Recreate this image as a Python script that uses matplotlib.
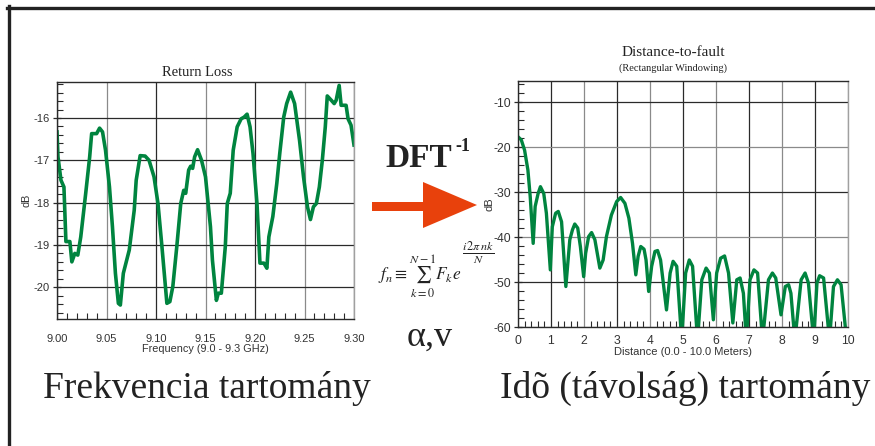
import numpy as np
import matplotlib
matplotlib.use('Agg')
import matplotlib.pyplot as plt
from matplotlib.lines import Line2D
from matplotlib.patches import Polygon
from matplotlib.ticker import MultipleLocator

# Return loss trace (frequency GHz, dB)
freq = [9.000, 9.001, 9.004, 9.007, 9.009, 9.013, 9.015, 9.018, 9.021, 9.024,
        9.029, 9.033, 9.035, 9.040, 9.043, 9.046, 9.049, 9.053, 9.056, 9.059,
        9.062, 9.064, 9.067, 9.073, 9.078, 9.080, 9.084, 9.089, 9.093, 9.098,
        9.102, 9.106, 9.111, 9.114, 9.117, 9.121, 9.125, 9.128, 9.130, 9.133,
        9.135, 9.137, 9.139, 9.142, 9.146, 9.150, 9.155, 9.157, 9.161, 9.163,
        9.166, 9.170, 9.172, 9.175, 9.178, 9.182, 9.186, 9.189, 9.192, 9.195,
        9.198, 9.202, 9.205, 9.209, 9.212, 9.214, 9.218, 9.222, 9.225, 9.229,
        9.232, 9.236, 9.240, 9.245, 9.249, 9.253, 9.256, 9.259, 9.262, 9.265,
        9.268, 9.271, 9.273, 9.277, 9.280, 9.282, 9.285, 9.287, 9.292, 9.294,
        9.297, 9.300]
rl_db = [-16.33, -16.92, -17.47, -17.63, -18.92, -18.92, -19.40, -19.20, -19.24, -18.81,
         -17.78, -16.92, -16.37, -16.37, -16.24, -16.33, -16.76, -17.63, -18.57, -19.67,
         -20.38, -20.42, -19.67, -19.12, -18.18, -17.47, -16.89, -16.90, -17.00, -17.39,
         -18.02, -19.04, -20.38, -20.34, -19.98, -19.04, -18.02, -17.71, -17.78, -17.23,
         -17.14, -17.19, -16.92, -16.75, -17.00, -17.39, -18.57, -19.36, -20.31, -20.14,
         -20.14, -19.04, -18.02, -17.78, -16.76, -16.21, -16.02, -15.98, -15.91, -16.21,
         -16.84, -18.02, -19.43, -19.43, -19.55, -18.81, -18.33, -17.55, -16.84, -15.98,
         -15.66, -15.39, -15.66, -16.53, -17.39, -18.10, -18.40, -18.10, -18.02, -17.63,
         -17.00, -16.21, -15.48, -15.58, -15.66, -15.58, -15.23, -15.70, -15.70, -16.02,
         -16.17, -16.64]

# Distance-to-fault trace (meters, dB)
dist = [0.00, 0.10, 0.20, 0.30, 0.37, 0.46, 0.52, 0.61, 0.68, 0.78,
        0.86, 0.98, 1.04, 1.14, 1.22, 1.32, 1.45, 1.57, 1.65, 1.72,
        1.81, 1.89, 1.99, 2.05, 2.14, 2.23, 2.33, 2.48, 2.58, 2.68,
        2.83, 2.99, 3.11, 3.24, 3.36, 3.47, 3.57, 3.64, 3.72, 3.82,
        3.88, 3.96, 4.05, 4.15, 4.23, 4.32, 4.50, 4.61, 4.70, 4.81,
        4.96, 5.08, 5.19, 5.29, 5.44, 5.57, 5.70, 5.80, 5.92, 6.02,
        6.14, 6.26, 6.38, 6.51, 6.63, 6.73, 6.83, 6.92, 7.03, 7.15,
        7.26, 7.41, 7.59, 7.71, 7.81, 7.97, 8.10, 8.20, 8.27, 8.39,
        8.58, 8.70, 8.80, 8.96, 9.06, 9.14, 9.26, 9.44, 9.56, 9.68,
        9.79, 9.96, 10.00]
dtf_db = [-17.7, -18.4, -20.7, -25.1, -31.0, -41.4, -33.2, -30.3, -28.8, -30.3,
          -34.7, -47.3, -37.7, -34.7, -34.3, -36.6, -51.0, -40.6, -38.4, -37.1,
          -38.0, -42.1, -48.8, -43.6, -39.9, -39.0, -40.6, -46.9, -45.1, -39.9,
          -35.1, -32.1, -31.2, -32.5, -35.8, -41.4, -48.4, -44.3, -42.1, -42.7,
          -45.1, -52.1, -46.5, -43.2, -43.0, -45.1, -56.2, -48.0, -45.4, -46.5,
          -63.0, -48.0, -45.1, -46.5, -63.0, -49.5, -46.9, -48.0, -58.4, -48.0,
          -44.7, -44.2, -48.0, -59.1, -49.5, -49.1, -52.5, -63.0, -49.5, -47.3,
          -48.0, -63.0, -49.5, -48.0, -49.1, -57.3, -51.0, -50.6, -52.5, -63.0,
          -49.5, -48.0, -50.2, -63.0, -50.2, -48.6, -49.1, -63.0, -51.0, -49.5,
          -50.6, -63.0, -63.0]

green = '#00843f'
dark = '#2a2a2a'
grey = '#8a8a8a'

plt.rcParams['axes.unicode_minus'] = False
plt.rcParams['mathtext.fontset'] = 'stix'

fig = plt.figure(figsize=(8.75, 4.46), dpi=100)
W, H = 875, 446


def px(x, y):
    # pixel position (from top-left) -> figure fraction
    return x / W, 1 - y / H


def style_axes(ax, tick_size):
    ax.set_facecolor('white')
    for side in ['left', 'bottom', 'top']:
        ax.spines[side].set_color(dark)
        ax.spines[side].set_linewidth(1.0)
    ax.spines['right'].set_color('#a0a0a0')
    ax.spines['right'].set_linewidth(1.0)
    ax.grid(True, which='major', linewidth=0.9, color=dark)
    ax.tick_params(which='major', axis='y', direction='inout', length=6,
                   width=0.9, color=dark, labelsize=tick_size, labelcolor='#333333', pad=2)
    ax.tick_params(which='major', axis='x', direction='in', length=0,
                   labelsize=tick_size, labelcolor='#333333')
    ax.tick_params(which='minor', direction='in', length=4, width=0.8, color=dark)
    for lab in ax.get_xticklabels() + ax.get_yticklabels():
        lab.set_fontfamily('Liberation Sans')


# Frequency domain plot
ax1 = fig.add_axes([57 / W, 1 - 319 / H, 297 / W, 237 / H])
ax1.plot(freq, rl_db, color=green, linewidth=2.6, solid_joinstyle='round')
ax1.set_xlim(9.0, 9.3)
ax1.set_ylim(-20.75, -15.15)
ax1.set_xticks(np.arange(9.0, 9.301, 0.05))
ax1.set_xticklabels(['9.00', '9.05', '9.10', '9.15', '9.20', '9.25', '9.30'])
ax1.set_yticks([-20, -19, -18, -17, -16])
ax1.xaxis.set_minor_locator(MultipleLocator(0.01))
ax1.yaxis.set_minor_locator(MultipleLocator(0.2))
style_axes(ax1, 8)
ax1.tick_params(axis='x', pad=11)
ax1.set_xlabel('Frequency (9.0 - 9.3 GHz)', fontsize=7.8, family='Liberation Sans',
               color='#333333', labelpad=0)
ax1.set_ylabel('dB', fontsize=7.8, family='Liberation Sans', color='#333333', labelpad=2)
for i, gl in enumerate(ax1.get_xgridlines()):
    gl.set_color(grey if i % 2 == 1 else dark)

# Distance domain plot
ax2 = fig.add_axes([518 / W, 1 - 327 / H, 330 / W, 246 / H])
ax2.plot(dist, dtf_db, color=green, linewidth=2.4, solid_joinstyle='round')
ax2.set_xlim(0, 10)
ax2.set_ylim(-60, -5.3)
ax2.set_xticks(range(0, 11))
ax2.set_yticks([-60, -50, -40, -30, -20, -10])
ax2.xaxis.set_minor_locator(MultipleLocator(0.2))
ax2.yaxis.set_minor_locator(MultipleLocator(2))
style_axes(ax2, 8.8)
ax2.tick_params(axis='x', pad=6)
ax2.set_xlabel('Distance (0.0 - 10.0 Meters)', fontsize=8, family='Liberation Sans',
               color='#333333', labelpad=0)
ax2.set_ylabel('dB', fontsize=8, family='Liberation Sans', color='#333333', labelpad=-1)
for i, gl in enumerate(ax2.get_xgridlines()):
    gl.set_color(grey if i % 2 == 0 else dark)
for i, gl in enumerate(ax2.get_ygridlines()):
    gl.set_color(dark if i % 2 == 1 else grey)

# Titles
serif = 'Liberation Serif'
fig.text(*px(197, 72), 'Return Loss', family=serif, fontsize=10.5, color='#222222',
         ha='center', va='center')
fig.text(*px(673, 52), 'Distance-to-fault', family=serif, fontsize=11, color='#222222',
         ha='center', va='center')
fig.text(*px(673, 68), '(Rectangular Windowing)', family=serif, fontsize=7.5,
         color='#222222', ha='center', va='center')

# Transform annotation in the middle
fig.text(*px(385, 167), 'DFT', family=serif, fontsize=24, fontweight='bold',
         color='#222222', ha='left', va='baseline')
fig.text(*px(455, 151), '-1', family=serif, fontsize=13, fontweight='bold',
         color='#222222', ha='left', va='baseline')

arrow_pts = [px(372, 202), px(423, 202), px(423, 182), px(477, 205),
             px(423, 228), px(423, 211), px(372, 211)]
fig.patches.append(Polygon(arrow_pts, closed=True, transform=fig.transFigure,
                           facecolor='#e8410c', edgecolor='none'))

fig.text(*px(378, 280), r'$f_n \equiv \sum_{k=0}^{N-1} F_k e$',
         fontsize=12.5, color='#222222', ha='left', va='baseline')
fig.text(*px(478, 253), r'$\frac{i\,2\pi\,nk}{N}$',
         fontsize=12.5, color='#222222', ha='center', va='center')
fig.text(*px(430, 346), 'α,v', family=serif, fontsize=26, color='#222222',
         ha='center', va='baseline')

# Domain captions
fig.text(*px(207, 398), 'Frekvencia tartomány', family=serif, fontsize=27,
         color='#222222', ha='center', va='baseline')
fig.text(*px(685, 398), 'Idõ (távolság) tartomány', family=serif, fontsize=27,
         color='#222222', ha='center', va='baseline')

# Frame lines along the top and left edges
fig.lines.append(Line2D([8.5 / W, 8.5 / W], [0, 1 - 6 / H], transform=fig.transFigure,
                        color='#222222', linewidth=2.4))
fig.lines.append(Line2D([7 / W, 1], [1 - 7.5 / H, 1 - 7.5 / H], transform=fig.transFigure,
                        color='#222222', linewidth=2.4))

fig.savefig('out.png', dpi=100, facecolor='white')
